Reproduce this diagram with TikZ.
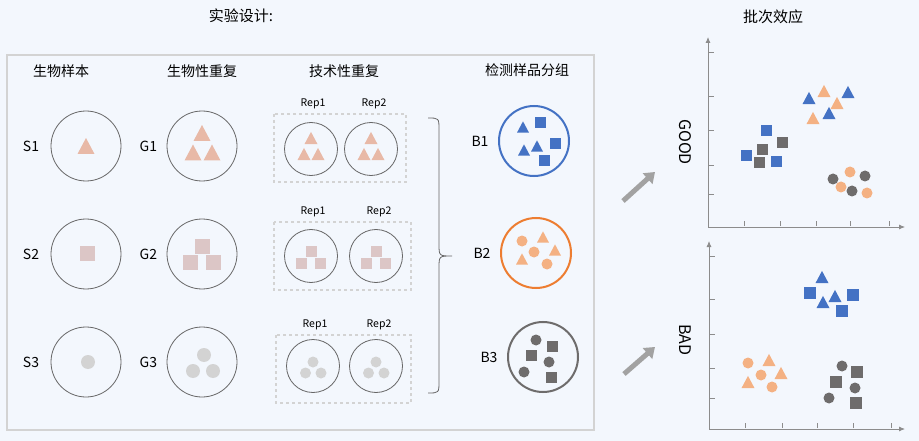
\documentclass[tikz,border=0pt]{standalone}
\usepackage{fontspec}
\setmainfont{Noto Sans CJK SC}
\usetikzlibrary{positioning,arrows.meta}
\definecolor{bg}{HTML}{F3F7FD}
\definecolor{frame}{HTML}{D3D3D3}
\definecolor{ring}{HTML}{666666}
\definecolor{tribrown}{HTML}{E8B9A7}
\definecolor{sqpink}{HTML}{DCC6C6}
\definecolor{dotgray}{HTML}{D3D3D3}
\definecolor{bblue}{HTML}{4472C4}
\definecolor{borange}{HTML}{ED7D31}
\definecolor{lorange}{HTML}{F4B183}
\definecolor{bgray}{HTML}{6E6C6C}
\definecolor{axis}{HTML}{8C8C8C}
\definecolor{arrowgray}{HTML}{A2A2A2}

% small marks: colour, x, y, size
\newcommand\tri[4]{\fill[#1] (#2,#3) +(-#4/2,#4*.47) -- +(#4/2,#4*.47) -- +(0,-#4*.47) -- cycle;}
\newcommand\sq[4]{\fill[#1] (#2,#3) +(-#4/2,-#4/2) rectangle +(#4/2,#4/2);}
\newcommand\blob[4]{\fill[#1] (#2,#3) circle[radius=#4/2];}

\begin{document}
\begin{tikzpicture}[x=1pt,y=-1pt,
    smp/.style={circle,draw=ring,line width=.8pt,minimum size=70pt,inner sep=0pt},
    rep/.style={smp,minimum size=53pt},
    grpring/.style={smp,line width=2pt},
    head/.style={font=\fontsize{14}{16}\selectfont},
    lbl/.style={font=\fontsize{14}{16}\selectfont},
    replbl/.style={font=\fontsize{10.5}{12}\selectfont},
    grp/.style={draw=frame,dashed,line width=1.2pt},
    axisline/.style={draw=axis,line width=.8pt},
    bigarrow/.style={draw=arrowgray,line width=5pt,-{Triangle[length=10pt,width=14pt]}}]
  \fill[bg] (0,0) rectangle (919,441);
  \draw[frame,line width=2.5pt] (7,55) rectangle (594,430);

  % titles
  \node[head,font=\fontsize{15}{17}\selectfont] (design) at (241,16) {实验设计:};
  \node[head,font=\fontsize{15}{17}\selectfont] (batch) at (773,17) {批次效应};
  \node[head] (hbio) at (61,71) {生物样本};
  \node[head] (hrep) at (202,71) {生物性重复};
  \node[head] (htech) at (344,71) {技术性重复};
  \node[head] (hgrp) at (527,70) {检测样品分组};

  % samples and biological replicates
  \foreach \i/\y in {1/146,2/254,3/362}{
    \node[smp] (s\i) at (86,\y) {};
    \node[lbl,left=8pt of s\i] (sl\i) {S\i};
    \node[smp] (g\i) at (202,\y) {};
    \node[lbl,left=6pt of g\i] (gl\i) {G\i};
  }
  \tri{tribrown}{86}{146}{17}
  \foreach \dx/\dy in {0/-13,-9/6.5,10/6.5}{\tri{tribrown}{202+\dx}{146+\dy}{17}}
  \sq{sqpink}{87}{253}{15}
  \foreach \dx/\dy in {0.7/-7.3,-12/8,11.7/8}{\sq{sqpink}{202+\dx}{254+\dy}{15}}
  \blob{dotgray}{88}{362}{14}
  \foreach \dx/\dy in {2/-7,-9/9,11/9}{\blob{dotgray}{202+\dx}{362+\dy}{14}}

  % technical replicates
  \foreach \i/\y/\by/\xa/\xb in {1/149/148/311/371,2/256/256/311/376,3/366/369/313/376}{
    \draw[grp] (\xa-37,\by-34) rectangle (\xb+35,\by+34);
    \node[rep] (ra\i) at (\xa,\y) {};
    \node[rep] (rb\i) at (\xb,\y) {};
    \node[replbl] (ral\i) at (\xa+2,\by-44) {Rep1};
    \node[replbl] (rbl\i) at (\xb+3,\by-44) {Rep2};
  }
  \foreach \x in {311,371}{\tri{tribrown}{\x}{138}{13}\tri{tribrown}{\x-7}{154}{13}\tri{tribrown}{\x+7}{154}{13}}
  \foreach \x in {311,376}{\sq{sqpink}{\x}{251}{11}\sq{sqpink}{\x-9.5}{263}{11}\sq{sqpink}{\x+9.5}{263}{11}}
  \foreach \x in {313,376}{\blob{dotgray}{\x}{362}{11}\blob{dotgray}{\x-7.5}{373}{11}\blob{dotgray}{\x+8}{373}{11}}

  % brace
  \draw[ring,line width=.8pt] (428,118) .. controls (439,118) .. (439,130) -- (439,244)
    .. controls (439,256) .. (452,256) .. controls (439,256) .. (439,268) -- (439,381)
    .. controls (439,393) .. (428,393);

  % batches
  \node[grpring,draw=bblue] (b1) at (534,141) {};
  \node[grpring,draw=borange] (b2) at (536,253) {};
  \node[grpring,draw=bgray] (b3) at (543,357) {};
  \foreach \i in {1,2,3}{\node[lbl,left=6pt of b\i] (bl\i) {B\i};}
  \foreach \x/\y in {523/127,524/150,537/146}{\tri{bblue}{\x}{\y}{12}}
  \foreach \x/\y in {540/123,555/144,544/161}{\sq{bblue}{\x}{\y}{11}}
  \foreach \x/\y in {522/241,534/252,547/264}{\blob{lorange}{\x}{\y}{11}}
  \foreach \x/\y in {543/237,555/250,522/259}{\tri{lorange}{\x}{\y}{12}}
  \foreach \x/\y in {536/340,549/362,524/372}{\blob{bgray}{\x}{\y}{11}}
  \foreach \x/\y in {552/346,531/355,551/377}{\sq{bgray}{\x}{\y}{11}}

  % arrows to plots
  \coordinate (ga) at (623,201);
  \coordinate (gb) at (655,172);
  \coordinate (ba) at (624,374);
  \coordinate (bb) at (655,347);
  \draw[bigarrow] (ga) -- (gb);
  \draw[bigarrow] (ba) -- (bb);

  % GOOD plot
  \coordinate (og) at (708,227);
  \draw[axisline,-{Latex[length=6pt,width=5pt]}] (og) -- (708,37);
  \draw[axisline,-{Latex[length=6pt,width=5pt]}] (og) -- (905,227);
  \foreach \t in {52,96,130,165,194}{\draw[axisline] (709,\t) -- (714,\t);}
  \foreach \t in {744,780,816,850,889}{\draw[axisline] (\t,226) -- (\t,221);}
  \node[lbl,font=\fontsize{16}{18}\selectfont,rotate=-90] (good) at (685,142) {GOOD};
  \foreach \x/\y in {809/98,848/92,829/113}{\tri{bblue}{\x}{\y}{13}}
  \foreach \x/\y in {824/91,837/103,813/118}{\tri{lorange}{\x}{\y}{13}}
  \foreach \x/\y in {766/131,746/156,776/162}{\sq{bblue}{\x}{\y}{11}}
  \foreach \x/\y in {762/150,782/143,759/163}{\sq{bgray}{\x}{\y}{11}}
  \foreach \x/\y in {833/179,865/176,852/191}{\blob{bgray}{\x}{\y}{11}}
  \foreach \x/\y in {850/172,841/187,867/193}{\blob{lorange}{\x}{\y}{11}}

  % BAD plot
  \coordinate (ob) at (709,429);
  \draw[axisline,-{Latex[length=6pt,width=5pt]}] (ob) -- (709,241);
  \draw[axisline,-{Latex[length=6pt,width=5pt]}] (ob) -- (905,429);
  \foreach \t in {256,299,334,368,398}{\draw[axisline] (710,\t) -- (715,\t);}
  \foreach \t in {745,782,817,853,891}{\draw[axisline] (\t,428) -- (\t,423);}
  \node[lbl,font=\fontsize{16}{18}\selectfont,rotate=-90] (bad) at (685,340) {BAD};
  \foreach \x/\y in {822/277,823/302,835/296}{\tri{bblue}{\x}{\y}{13}}
  \foreach \x/\y in {810/293,853/295,842/311}{\sq{bblue}{\x}{\y}{12}}
  \foreach \x/\y in {748/363,761/375,772/387}{\blob{lorange}{\x}{\y}{11}}
  \foreach \x/\y in {769/360,781/373,748/382}{\tri{lorange}{\x}{\y}{13}}
  \foreach \x/\y in {842/366,855/388,829/398}{\blob{bgray}{\x}{\y}{11}}
  \foreach \x/\y in {857/372,836/382,856/403}{\sq{bgray}{\x}{\y}{12}}
\end{tikzpicture}
\end{document}
